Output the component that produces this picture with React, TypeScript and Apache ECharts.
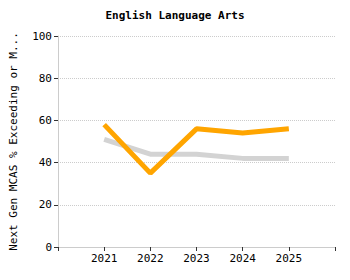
import React, { useEffect, useRef } from "react";
import * as echarts from "echarts";

const categories = ["", "2021", "2022", "2023", "2024", "2025", ""];
const schoolValues = [null, 58, 35, 56, 54, 56, null];
const stateValues = [null, 51, 44, 44, 42, 42, null];
const yTicks = [0, 20, 40, 60, 80, 100];

const FONT = "DejaVu Sans Mono";

export default function App() {
  const ref = useRef<HTMLDivElement>(null);
  useEffect(() => {
    if (!ref.current) return;
    const chart = echarts.init(ref.current, undefined, { renderer: "svg" });
    chart.setOption({
      animation: false,
      title: {
        text: "English Language Arts",
        left: "center",
        top: 5,
        textStyle: { fontFamily: FONT, fontSize: 11, fontWeight: "bold", color: "#000" },
      },
      grid: { left: 58, right: 15, top: 36, bottom: 33 },
      xAxis: {
        type: "category",
        data: categories,
        boundaryGap: false,
        axisLine: { lineStyle: { color: "#ccc" } },
        axisTick: { show: true, length: 4, lineStyle: { color: "#333" } },
        axisLabel: { fontFamily: FONT, fontSize: 11, color: "#000", margin: 6 },
        splitLine: { show: false },
      },
      yAxis: {
        type: "value",
        min: yTicks[0],
        max: yTicks[yTicks.length - 1],
        interval: 20,
        name: "Next Gen MCAS % Exceeding or Meeting Expectations",
        nameLocation: "middle",
        nameGap: 39,
        nameTruncate: { maxWidth: 224, ellipsis: "..." },
        nameTextStyle: { fontFamily: FONT, fontSize: 11, color: "#000" },
        axisLine: { show: true, lineStyle: { color: "#ccc" } },
        axisTick: { show: true, length: 4, lineStyle: { color: "#333" } },
        axisLabel: { fontFamily: FONT, fontSize: 11, color: "#000", margin: 6 },
        splitLine: { show: true, lineStyle: { color: "#ccc", type: "dotted" } },
      },
      series: [
        {
          type: "line",
          data: stateValues,
          symbol: "none",
          lineStyle: { color: "#d3d3d3", width: 5 },
          z: 2,
        },
        {
          type: "line",
          data: schoolValues,
          symbol: "none",
          lineStyle: { color: "#ffa500", width: 5 },
          z: 3,
        },
      ],
    });
    return () => chart.dispose();
  }, []);
  return <div ref={ref} style={{ width: 350, height: 280, margin: -8 }} />;
}
